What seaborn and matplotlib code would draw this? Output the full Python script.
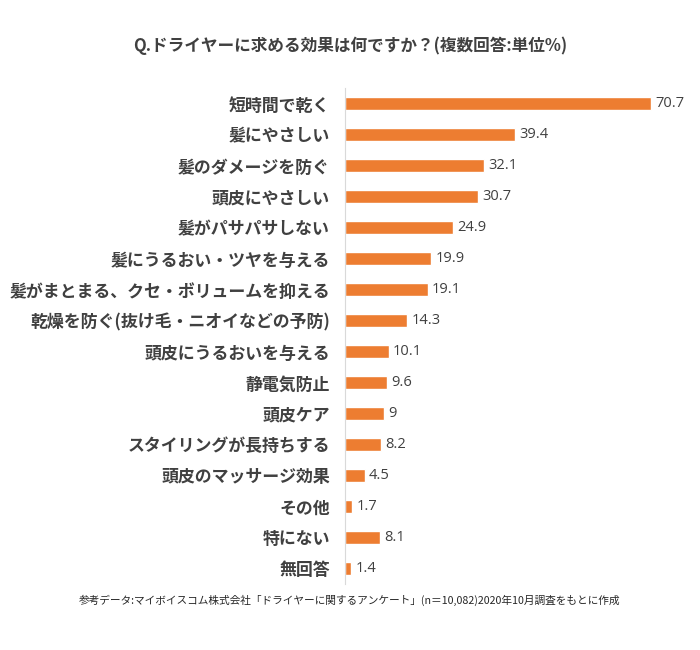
import matplotlib
matplotlib.use("Agg")
import matplotlib.pyplot as plt
import seaborn as sns
import pandas as pd

categories = [
    "短時間で乾く", "髪にやさしい", "髪のダメージを防ぐ", "頭皮にやさしい",
    "髪がパサパサしない", "髪にうるおい・ツヤを与える",
    "髪がまとまる、クセ・ボリュームを抑える", "乾燥を防ぐ(抜け毛・ニオイなどの予防)",
    "頭皮にうるおいを与える", "静電気防止", "頭皮ケア", "スタイリングが長持ちする",
    "頭皮のマッサージ効果", "その他", "特にない", "無回答",
]
values = [70.7, 39.4, 32.1, 30.7, 24.9, 19.9, 19.1, 14.3, 10.1, 9.6, 9, 8.2, 4.5, 1.7, 8.1, 1.4]
value_labels = ["70.7", "39.4", "32.1", "30.7", "24.9", "19.9", "19.1", "14.3",
                "10.1", "9.6", "9", "8.2", "4.5", "1.7", "8.1", "1.4"]

sns.set_style("white")
plt.rcParams["font.family"] = ["Noto Sans CJK JP", "DejaVu Sans"]

df = pd.DataFrame({"項目": categories, "割合": values})

fig = plt.figure(figsize=(7, 6.5), dpi=100)
ax = fig.add_axes([0.493, 0.102, 0.494, 0.762])
sns.barplot(data=df, y="項目", x="割合", color="#ED7D31", width=0.42,
            saturation=1, ax=ax)

for i, (v, lab) in enumerate(zip(values, value_labels)):
    ax.text(v + 1.0, i, lab, va="center", ha="left", fontsize=10.5,
            color="#404040", family=["Open Sans", "DejaVu Sans"])

ax.set_xlim(0, 80)
ax.set_xlabel("")
ax.set_ylabel("")
ax.set_xticks([])
for s in ["top", "right", "bottom"]:
    ax.spines[s].set_visible(False)
ax.spines["left"].set_color("#d9d9d9")
ax.tick_params(axis="y", length=0, pad=11)
for t in ax.get_yticklabels():
    t.set_fontsize(12.2)
    t.set_fontweight("bold")
    t.set_color("#404040")

fig.text(0.5, 0.93, "Q.ドライヤーに求める効果は何ですか？(複数回答:単位%)",
         ha="center", va="center", fontsize=12, fontweight="bold", color="#404040")
fig.text(0.5, 0.077, "参考データ:マイボイスコム株式会社「ドライヤーに関するアンケート」(n＝10,082)2020年10月調査をもとに作成",
         ha="center", va="center", fontsize=7.7, color="#262626")

fig.savefig("out.png", dpi=100)
